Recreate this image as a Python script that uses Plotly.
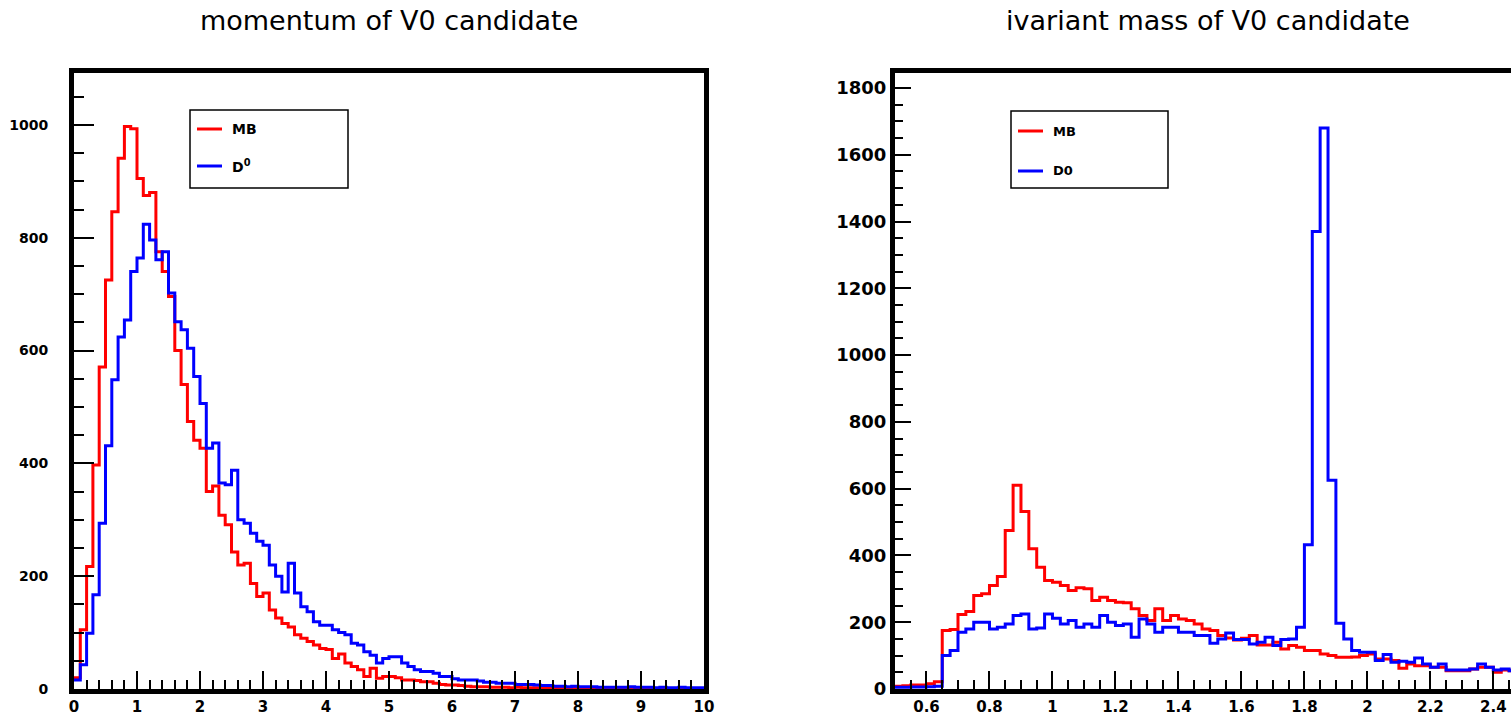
import plotly.graph_objects as go

# ---------------- data ----------------
# momentum of V0 candidate: 100 bins of 0.1 from 0 to 10
mom_low = 0.0
mom_width = 0.1
mom_mb = [20, 105, 217, 397, 571, 725, 846, 941, 997, 993,
          905, 875, 880, 775, 740, 696, 600, 540, 474, 441,
          427, 350, 360, 308, 291, 243, 220, 223, 187, 164,
          170, 140, 126, 116, 110, 96, 90, 84, 78, 72,
          70, 54, 62, 46, 40, 34, 22, 37, 19, 22,
          22, 20, 16, 16, 15, 13, 13, 10, 8, 7,
          7, 6, 5, 4, 4, 4, 3, 3, 3, 2,
          3, 2, 2, 2, 1, 2, 1, 1, 1, 1,
          1, 1, 0, 1, 0, 1, 0, 0, 1, 0,
          0, 0, 0, 0, 0, 0, 0, 0, 0, 0]
mom_d0 = [16, 43, 99, 167, 294, 431, 548, 624, 654, 740,
          764, 824, 796, 761, 775, 702, 651, 637, 604, 554,
          506, 427, 436, 365, 362, 388, 300, 294, 276, 262,
          255, 220, 200, 172, 223, 170, 146, 137, 119, 113,
          113, 105, 100, 96, 81, 78, 66, 60, 46, 54,
          57, 57, 46, 40, 34, 31, 31, 28, 22, 22,
          18, 16, 16, 16, 14, 12, 12, 10, 10, 10,
          8, 8, 8, 7, 6, 6, 5, 5, 4, 5,
          4, 4, 4, 3, 3, 3, 3, 3, 4, 3,
          3, 3, 2, 3, 2, 2, 3, 2, 2, 2]

# invariant mass of V0 candidate: bins of 0.025 starting at 0.5
mass_low = 0.5
mass_width = 0.025
mass_mb = [8, 10, 12, 12, 16, 22, 175, 178, 223, 232,
           280, 285, 310, 337, 475, 610, 532, 420, 365, 325,
           320, 310, 295, 303, 300, 265, 275, 265, 260, 258,
           240, 220, 205, 240, 205, 220, 210, 205, 195, 180,
           175, 160, 153, 147, 152, 160, 132, 132, 140, 120,
           130, 125, 115, 115, 105, 100, 95, 95, 96, 100,
           105, 90, 90, 85, 62, 75, 70, 70, 65, 65,
           55, 55, 55, 60, 65, 65, 50, 57, 55, 52]
mass_d0 = [5, 5, 6, 6, 7, 8, 100, 115, 170, 180,
           200, 200, 180, 185, 195, 220, 225, 180, 183, 225,
           212, 195, 205, 185, 195, 185, 220, 200, 190, 195,
           155, 210, 195, 170, 185, 185, 170, 170, 160, 160,
           137, 150, 168, 148, 148, 135, 140, 155, 130, 148,
           150, 185, 432, 1370, 1680, 625, 197, 150, 115, 110,
           110, 85, 103, 80, 83, 80, 93, 75, 65, 75,
           57, 57, 57, 60, 75, 65, 57, 60, 55, 55]

left_labels = ["MB", "D<sup>0</sup>"]
right_labels = ["MB", "D0"]
titles = ["momentum of V0 candidate", "ivariant mass of V0 candidate"]
colors = ["#ff0000", "#0000ff"]

# ---------------- helpers ----------------
W, H = 1511, 718
FONT = "DejaVu Sans"


def px(x):
    return x / W


def py(y):
    return 1 - y / H


def step_xy(low, width, values):
    """Bin edges and contents for a step ('hv') outline of a histogram."""
    edges = [low + i * width for i in range(len(values) + 1)]
    return edges, list(values) + [values[-1]]


fig = go.Figure()

series = [
    (mom_low, mom_width, mom_mb, colors[0], left_labels[0], "x", "y"),
    (mom_low, mom_width, mom_d0, colors[1], left_labels[1], "x", "y"),
    (mass_low, mass_width, mass_mb, colors[0], right_labels[0], "x2", "y2"),
    (mass_low, mass_width, mass_d0, colors[1], right_labels[1], "x2", "y2"),
]
for low, width, vals, col, name, xa, ya in series:
    xs, ys = step_xy(low, width, vals)
    fig.add_trace(go.Scatter(x=xs, y=ys, mode="lines", name=name,
                             line=dict(shape="hv", width=3, color=col),
                             xaxis=xa, yaxis=ya, showlegend=False,
                             hoverinfo="skip"))

# plot-area pixel geometry
L_X0, L_X1 = 74, 704
R_X0 = 895
Y_TOP, Y_BOT = 73, 689
ydom = [py(Y_BOT), py(Y_TOP)]

frame = dict(showline=True, linewidth=5, linecolor="black", showgrid=False,
             zeroline=False, ticks="inside", tickcolor="black", tickwidth=1.5,
             automargin=False)


def minor(step, length):
    return dict(dtick=step, ticklen=length, ticks="inside",
                tickcolor="black", tickwidth=1.5)


def tfont(size):
    return dict(family=FONT, size=size, color="black", weight="bold")


fig.update_layout(
    width=W, height=H,
    margin=dict(l=0, r=0, t=0, b=0, autoexpand=False),
    paper_bgcolor="white", plot_bgcolor="white",
    showlegend=False,
    xaxis=dict(frame, domain=[px(L_X0), px(L_X1)], range=[0, 10],
               dtick=1, tick0=0, ticklen=18, mirror=True, anchor="y",
               minor=minor(0.2, 9), tickfont=tfont(15)),
    yaxis=dict(frame, domain=ydom, range=[0, 1092], dtick=200, tick0=0,
               ticklen=20, mirror=True, anchor="x",
               minor=minor(50, 10), tickfont=tfont(14),
               ticklabelstandoff=18),
    xaxis2=dict(frame, domain=[px(R_X0), 1.0], range=[0.5, 2.456],
                dtick=0.2, tick0=0, ticklen=18, mirror=True, anchor="y2",
                minor=minor(0.05, 9), tickfont=tfont(15)),
    yaxis2=dict(frame, domain=ydom, range=[0, 1845], dtick=200, tick0=0,
                ticklen=16, mirror=False, anchor="x2",
                minor=minor(50, 8), tickfont=tfont(18)),
)

# titles
for title, cx in zip(titles, [389, 1208]):
    fig.add_annotation(text=title, xref="paper", yref="paper",
                       x=px(cx), y=py(20), xanchor="center", yanchor="middle",
                       showarrow=False,
                       font=dict(family=FONT, size=27, color="black"))

# legend boxes with their entries
legends = [
    dict(box=(190, 110, 348, 188), rows=(129, 166), labels=left_labels, size=14),
    dict(box=(1011, 111, 1168, 188), rows=(131, 171), labels=right_labels, size=13),
]
for lg in legends:
    bx0, by0, bx1, by1 = lg["box"]
    fig.add_shape(type="rect", xref="paper", yref="paper",
                  x0=px(bx0), x1=px(bx1), y0=py(by1), y1=py(by0),
                  line=dict(color="black", width=1.5), fillcolor="white",
                  layer="above")
    for row, label, col in zip(lg["rows"], lg["labels"], colors):
        fig.add_shape(type="line", xref="paper", yref="paper",
                      x0=px(bx0 + 7), x1=px(bx0 + 32), y0=py(row), y1=py(row),
                      line=dict(color=col, width=3), layer="above")
        fig.add_annotation(text=label, xref="paper", yref="paper",
                           x=px(bx0 + 40), y=py(row), xanchor="left",
                           yanchor="middle", showarrow=False,
                           font=dict(family=FONT, size=lg["size"], color="black",
                                     weight="bold"))

fig.write_html("out.html")
